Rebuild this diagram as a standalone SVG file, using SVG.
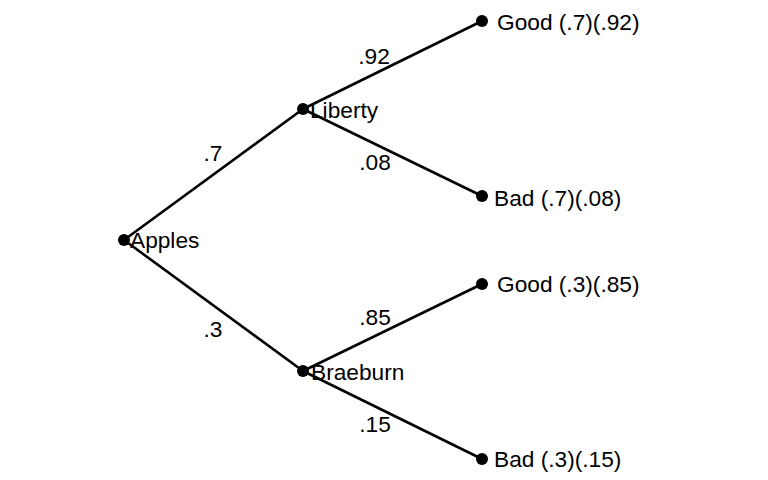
<svg xmlns="http://www.w3.org/2000/svg" width="768" height="480" viewBox="0 0 768 480">
<style>
.e{stroke:#000;stroke-width:2.6;fill:none}
.d{fill:#000}
text{font-family:"Liberation Sans",Arial,sans-serif;font-size:22.7px;fill:#000}
.m{text-anchor:middle}
</style>
<rect width="768" height="480" fill="#fff"/>
<g id="connectors">
<line class="e" x1="124" y1="240" x2="303" y2="109"/>
<line class="e" x1="124" y1="240" x2="303" y2="371"/>
<line class="e" x1="303" y1="109" x2="482" y2="21"/>
<line class="e" x1="303" y1="109" x2="482" y2="196"/>
<line class="e" x1="303" y1="371" x2="482" y2="284"/>
<line class="e" x1="303" y1="371" x2="482" y2="459"/>
<text class="m" x="213" y="161">.7</text>
<text class="m" x="213" y="337">.3</text>
<text class="m" x="374" y="64">.92</text>
<text class="m" x="375" y="170">.08</text>
<text class="m" x="375" y="325">.85</text>
<text class="m" x="375" y="432">.15</text>
</g>
<g id="apples"><circle class="d" cx="124" cy="240" r="6"/><text x="130" y="248">Apples</text></g>
<g id="liberty"><circle class="d" cx="303" cy="109" r="6"/><text x="310" y="118">Liberty</text></g>
<g id="braeburn"><circle class="d" cx="303" cy="371" r="6"/><text x="311" y="380">Braeburn</text></g>
<g id="good1"><circle class="d" cx="482" cy="21" r="6"/><text x="497" y="30">Good (.7)(.92)</text></g>
<g id="bad1"><circle class="d" cx="482" cy="196" r="6"/><text x="494" y="206">Bad (.7)(.08)</text></g>
<g id="good2"><circle class="d" cx="482" cy="284" r="6"/><text x="497" y="292">Good (.3)(.85)</text></g>
<g id="bad2"><circle class="d" cx="482" cy="459" r="6"/><text x="494" y="467">Bad (.3)(.15)</text></g>
</svg>
